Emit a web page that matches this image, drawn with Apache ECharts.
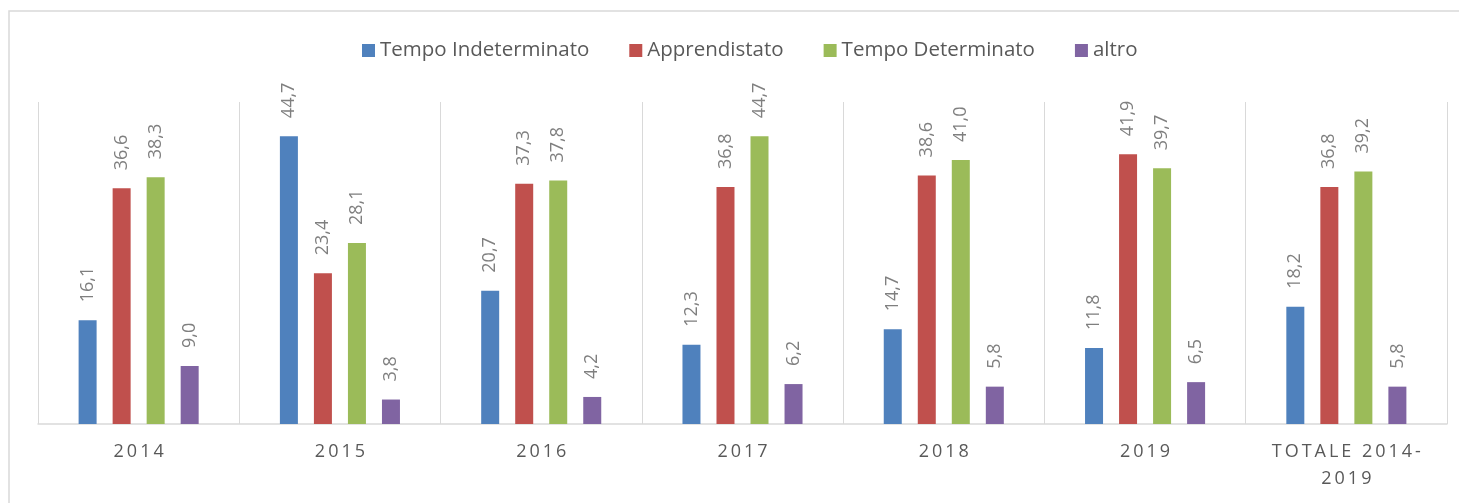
<!DOCTYPE html>
<html>
<head>
<meta charset="utf-8">
<script src="https://cdn.jsdelivr.net/npm/echarts@6/dist/echarts.min.js"></script>
<style>
  html, body { margin: 0; padding: 0; background: #fff; }
  #chart { width: 1459px; height: 503px; }
</style>
</head>
<body>
<div id="chart"></div>
<script>
// categorie (anni) e serie
const categories = ['2014', '2015', '2016', '2017', '2018', '2019', 'TOTALE 2014-2019'];
const seriesNames = ['Tempo Indeterminato', 'Apprendistato', 'Tempo Determinato', 'altro'];
const tempoIndeterminato = [16.1, 44.7, 20.7, 12.3, 14.7, 11.8, 18.2];
const apprendistato = [36.6, 23.4, 37.3, 36.8, 38.6, 41.9, 36.8];
const tempoDeterminato = [38.3, 28.1, 37.8, 44.7, 41.0, 39.7, 39.2];
const altro = [9.0, 3.8, 4.2, 6.2, 5.8, 6.5, 5.8];

const colors = ['#4f81bd', '#c0504d', '#9bbb59', '#8064a2'];
const seriesData = [tempoIndeterminato, apprendistato, tempoDeterminato, altro];

const chart = echarts.init(document.getElementById('chart'));

// spaziatura tra le lettere come nell'originale
function spaced(value) {
    return value.replace('-', '-\n').split('\n')
        .map(line => line.split('').join('\u2009'))
        .join('\n');
}

const option = {
    animation: false,
    textStyle: { fontFamily: 'Open Sans' },
    color: colors,
    graphic: [{
        type: 'rect',
        shape: { x: 9, y: 11, width: 1470, height: 500 },
        style: { fill: 'none', stroke: '#d9d9d9', lineWidth: 1.5 },
        silent: true
    }],
    legend: {
        data: seriesNames,
        top: 35,
        left: 357,
        itemWidth: 13,
        itemHeight: 13,
        itemGap: 40,
        icon: 'rect',
        textStyle: { fontSize: 20.5, color: '#595959', fontFamily: 'Open Sans' }
    },
    grid: { left: 38, right: 12, top: 102, bottom: 79 },
    xAxis: {
        type: 'category',
        data: categories,
        axisTick: { show: false },
        axisLine: { lineStyle: { color: '#d9d9d9', width: 1.5 } },
        splitLine: { show: true, lineStyle: { color: '#d9d9d9', width: 1 } },
        axisLabel: {
            interval: 0,
            margin: 14,
            fontSize: 18,
            lineHeight: 27,
            color: '#595959',
            formatter: spaced
        }
    },
    yAxis: {
        type: 'value',
        min: 0,
        max: 50,
        show: false,
        splitLine: { show: false }
    },
    series: seriesNames.map((name, i) => ({
        name: name,
        type: 'bar',
        data: seriesData[i],
        barWidth: 18,
        barGap: '89%',
        label: {
            show: true,
            position: 'top',
            rotate: 90,
            align: 'left',
            verticalAlign: 'middle',
            distance: 18,
            fontSize: 18,
            color: '#7f7f7f',
            formatter: p => p.value.toFixed(1).replace('.', ',')
        }
    }))
};

chart.setOption(option);
</script>
</body>
</html>
